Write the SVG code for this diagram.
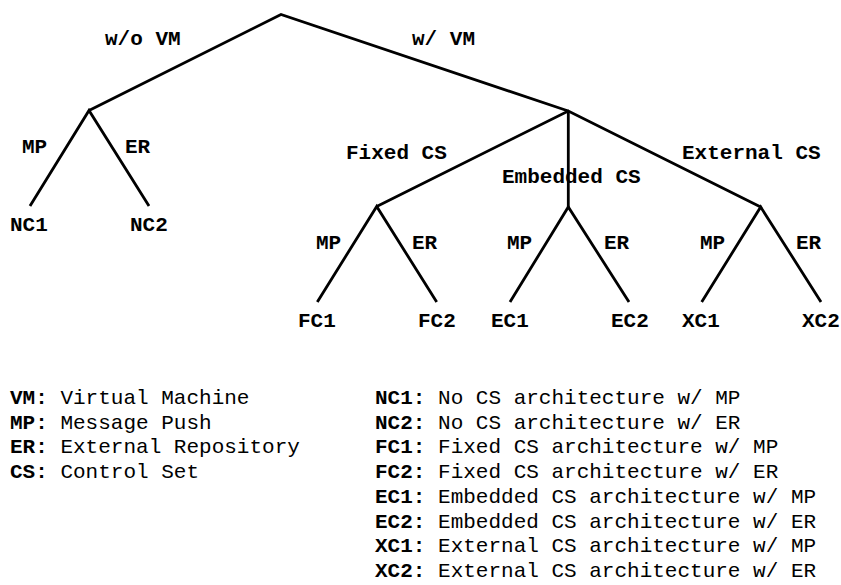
<svg xmlns="http://www.w3.org/2000/svg" width="841" height="585" viewBox="0 0 841 585">
  <style>
    .edge { fill: none; stroke: #000; stroke-width: 2.8; stroke-linejoin: miter; stroke-linecap: butt; }
    .lbl { font-family: "Liberation Mono", "DejaVu Sans Mono", monospace; font-weight: bold; font-size: 21px; fill: #000; }
    .key { font-family: "Liberation Mono", "DejaVu Sans Mono", monospace; font-weight: bold; font-size: 21px; fill: #000; }
    .desc { font-weight: normal; }
  </style>
  <rect width="841" height="585" fill="#fff"/>

  <!-- tree branches -->
  <g id="connectors">
    <path class="edge" d="M89,110.5 L281,14.5 L568.3,111"/>
    <path class="edge" d="M30,206 L89,110.5 L149,206"/>
    <path class="edge" d="M376.7,206.5 L568.3,111 L760.7,207"/>
    <path class="edge" d="M568.3,111 L568.3,207"/>
    <path class="edge" d="M317.3,302 L376.7,206.5 L436.7,302"/>
    <path class="edge" d="M510,302 L568.3,207 L629,302"/>
    <path class="edge" d="M701.7,302 L760.7,207 L821,302"/>
  </g>

  <!-- branch labels -->
  <g id="edge-labels" class="lbl">
    <text x="105" y="45">w/o VM</text>
    <text x="412" y="45">w/ VM</text>
    <text x="22" y="153">MP</text>
    <text x="125" y="153">ER</text>
    <text x="346" y="159">Fixed CS</text>
    <text x="502" y="183">Embedded CS</text>
    <text x="682" y="159">External CS</text>
    <text x="316" y="249">MP</text>
    <text x="412" y="249">ER</text>
    <text x="507" y="249">MP</text>
    <text x="604" y="249">ER</text>
    <text x="700" y="249">MP</text>
    <text x="796" y="249">ER</text>
  </g>

  <!-- nodes -->
  <g id="root"/>
  <g id="no-vm"/>
  <g id="with-vm"/>
  <g id="fixed-cs"/>
  <g id="embedded-cs"/>
  <g id="external-cs"/>
  <g id="nc1" class="lbl"><text x="10" y="231">NC1</text></g>
  <g id="nc2" class="lbl"><text x="130" y="231">NC2</text></g>
  <g id="fc1" class="lbl"><text x="298" y="327">FC1</text></g>
  <g id="fc2" class="lbl"><text x="418" y="327">FC2</text></g>
  <g id="ec1" class="lbl"><text x="491" y="327">EC1</text></g>
  <g id="ec2" class="lbl"><text x="611" y="327">EC2</text></g>
  <g id="xc1" class="lbl"><text x="682" y="327">XC1</text></g>
  <g id="xc2" class="lbl"><text x="802" y="327">XC2</text></g>

  <!-- legend: abbreviations -->
  <g id="legend-terms" class="key">
    <text x="10" y="404">VM:<tspan class="desc"> Virtual Machine</tspan></text>
    <text x="10" y="428.7">MP:<tspan class="desc"> Message Push</tspan></text>
    <text x="10" y="453.4">ER:<tspan class="desc"> External Repository</tspan></text>
    <text x="10" y="478.1">CS:<tspan class="desc"> Control Set</tspan></text>
  </g>

  <!-- legend: architectures -->
  <g id="legend-archs" class="key">
    <text x="375" y="404">NC1:<tspan class="desc"> No CS architecture w/ MP</tspan></text>
    <text x="375" y="428.7">NC2:<tspan class="desc"> No CS architecture w/ ER</tspan></text>
    <text x="375" y="453.4">FC1:<tspan class="desc"> Fixed CS architecture w/ MP</tspan></text>
    <text x="375" y="478.1">FC2:<tspan class="desc"> Fixed CS architecture w/ ER</tspan></text>
    <text x="375" y="502.8">EC1:<tspan class="desc"> Embedded CS architecture w/ MP</tspan></text>
    <text x="375" y="527.5">EC2:<tspan class="desc"> Embedded CS architecture w/ ER</tspan></text>
    <text x="375" y="552.2">XC1:<tspan class="desc"> External CS architecture w/ MP</tspan></text>
    <text x="375" y="576.9">XC2:<tspan class="desc"> External CS architecture w/ ER</tspan></text>
  </g>
</svg>
